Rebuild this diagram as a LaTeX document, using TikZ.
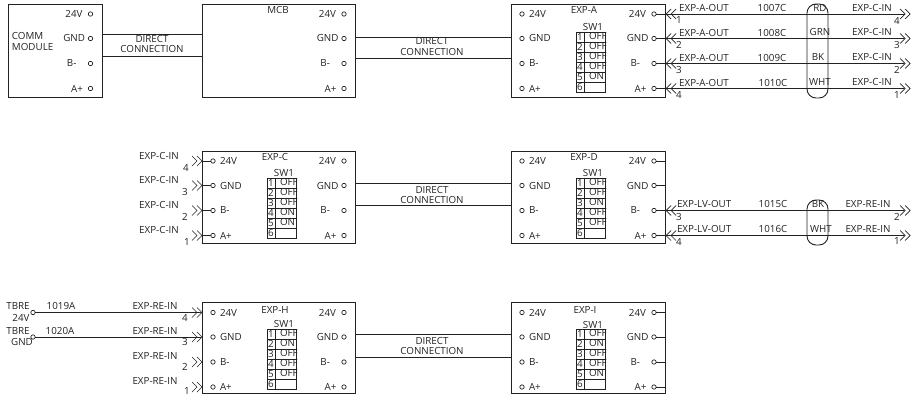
\documentclass[tikz,border=0pt]{standalone}
\usepackage{fontspec}
\setmainfont{Open Sans}
\definecolor{ink}{HTML}{222222}
\newcommand{\fs}{\fontsize{9.8}{9.8}\selectfont}
\tikzset{
  box/.style={draw=ink,line width=.9pt,anchor=north west,inner sep=0pt,outer sep=0pt},
  term/.style={circle,draw=ink,line width=.7pt,minimum size=4.4pt,inner sep=0pt,outer sep=0pt},
  txt/.style={text=ink,font=\fs,inner sep=0pt,outer sep=0pt},
  wire/.style={draw=ink,line width=.9pt},
  chev/.style={draw=ink,line width=.7pt},
  sw/.style={draw=ink,line width=.8pt},
  shield/.style={draw=ink,line width=.9pt,rounded corners=9pt,fill=none,anchor=north west,inner sep=0pt,outer sep=0pt}
}
\newcommand{\rowlabelsR}[3]{%
  \foreach \i/\t/\ox/\oy in {1/24V/-8/10,2/GND/-5.5/34.5,3/B-/-14/59.5,4/A+/-7.5/84.5}{
    \node[term] (#1-r\i) at (#2,#3+\oy) {};
    \node[txt,anchor=east] (#1-rt\i) at (#2+\ox,#3+\oy) {\t};
  }}
\newcommand{\rowlabelsL}[3]{%
  \foreach \i/\t/\oy in {1/24V/10,2/GND/34.5,3/B-/59.5,4/A+/84.5}{
    \node[term] (#1-l\i) at (#2,#3+\oy) {};
    \node[txt,anchor=west] (#1-lt\i) at (#2+7,#3+\oy) {\t};
  }}
\newcommand{\swtab}[3]{%
  \draw[sw] (#2,#3) rectangle (#2+29,#3+60);
  \draw[sw] (#2+8,#3) -- (#2+8,#3+60);
  \foreach \n/\v [evaluate=\n as \yy using {#3+10*(\n-1)}] in {#1}{
    \node[txt,anchor=center] (sn\n) at (#2+4,\yy+5) {\n};
    \node[txt,anchor=west] (sv\n) at (#2+13,\yy+4) {\v};
    \ifnum\n>1 \draw[sw] (#2,\yy) -- (#2+29,\yy);\fi
  }}
\newcommand{\chL}[2]{\draw[chev] (#1+5,#2-5) -- (#1,#2) -- (#1+5,#2+5) (#1+10,#2-5) -- (#1+5,#2) -- (#1+10,#2+5);}
\newcommand{\chR}[2]{\draw[chev] (#1-5,#2-5) -- (#1,#2) -- (#1-5,#2+5) (#1-10,#2-5) -- (#1-5,#2) -- (#1-10,#2+5);}
\newcommand{\dconn}[7]{%
  \coordinate (#1-a) at (#1.east |- 0,#3); \coordinate (#2-a) at (#2.west |- 0,#3);
  \coordinate (#1-b) at (#1.east |- 0,#4); \coordinate (#2-b) at (#2.west |- 0,#4);
  \draw[wire] (#1-a) -- (#2-a);
  \draw[wire] (#1-b) -- (#2-b);
  \node[txt] (#1-d1) at (#5,#6) {DIRECT};
  \node[txt] (#1-d2) at (#5,#7) {CONNECTION};
}
\begin{document}
\begin{tikzpicture}[x=1pt,y=-1pt]
\useasboundingbox (0,0) rectangle (911,396);
% ---------- top row
\node[box,minimum width=94pt,minimum height=93pt] (comm) at (8,4) {};
\node[txt,anchor=west] (commt1) at (12,36) {COMM};
\node[txt,anchor=west] (commt2) at (12,46.5) {MODULE};
\rowlabelsR{comm}{90.5}{4}
\node[box,minimum width=153pt,minimum height=93pt] (mcb) at (202,4) {};
\node[txt] (mcbt) at (278,10) {MCB};
\rowlabelsR{mcb}{344}{4}
\node[box,minimum width=154pt,minimum height=93pt] (A) at (511,4) {};
\node[txt] (At) at (584,10) {EXP-A};
\node[txt] (As) at (593,27) {SW1};
\swtab{1/OFF,2/OFF,3/OFF,4/OFF,5/ON,6/{}}{576}{32}
\rowlabelsL{A}{522}{4}
\rowlabelsR{A}{654}{4}
\dconn{comm}{mcb}{34}{56}{152}{39}{49}
\dconn{mcb}{A}{37}{58}{432}{41}{52}
\foreach \i/\y/\wa/\wb/\col/\colx/\num in {1/14/1007C/772/RD/820/4,2/38.5/1008C/772/GRN/820/3,3/63.5/1009C/772/BK/818/2,4/88.5/1010C/773/WHT/820/1}{
  \coordinate (Aw\i) at (904,\y);
  \draw[wire] (A-r\i) -- (Aw\i);
  \chL{666}{\y}\chR{910}{\y}
  \node[txt] (Ao\i) at (704,\y-6) {EXP-A-OUT};
  \node[txt] (Ac\i) at (\wb,\y-6) {\wa};
  \node[txt] (Ak\i) at (\colx,\y-6) {\col};
  \node[txt] (Ai\i) at (872,\y-6) {EXP-C-IN};
  \node[txt] (An\i) at (679,\y+6.5) {\i};
  \node[txt] (Am\i) at (897,\y+6.5) {\num};
}
\node[shield,minimum width=21pt,minimum height=94pt] (As1) at (807,4) {};
% ---------- middle row
\node[box,minimum width=153pt,minimum height=92pt] (C) at (202,151) {};
\node[txt] (Ct) at (275,157) {EXP-C};
\node[txt] (Cs) at (284,173) {SW1};
\swtab{1/OFF,2/OFF,3/OFF,4/ON,5/ON,6/{}}{267}{178}
\rowlabelsL{C}{213}{151}
\rowlabelsR{C}{344}{151}
\foreach \i/\y/\num/\nx in {1/161/4/186,2/185.5/3/185,3/210.5/2/185,4/235.5/1/187}{
  \coordinate (Cw\i) at (202,\y);
  \draw[wire] (Cw\i) -- (C-l\i);
  \chR{202}{\y}
  \node[txt] (Ci\i) at (159,\y-5.5) {EXP-C-IN};
  \node[txt] (Cn\i) at (\nx,\y+6.5) {\num};
}
\node[box,minimum width=154pt,minimum height=92pt] (D) at (511,151) {};
\node[txt] (Dt) at (584,157) {EXP-D};
\node[txt] (Ds) at (593,173) {SW1};
\swtab{1/OFF,2/OFF,3/ON,4/OFF,5/OFF,6/{}}{576}{178}
\rowlabelsL{D}{522}{151}
\rowlabelsR{D}{654}{151}
\dconn{C}{D}{183}{205}{432}{190}{199.5}
\foreach \i in {1,2}{\coordinate (Ds\i) at (D.east |- D-r\i); \draw[wire] (D-r\i) -- (Ds\i);}
\foreach \i/\y/\wa/\col/\colx/\num/\nn in {3/210.5/1015C/BK/818/3/2,4/235.5/1016C/WHT/821/4/1}{
  \coordinate (Dw\i) at (904,\y);
  \draw[wire] (D-r\i) -- (Dw\i);
  \chL{666}{\y}\chR{910}{\y}
  \node[txt,anchor=west] (Do\i) at (677,\y-6.5) {EXP-LV-OUT};
  \node[txt] (Dc\i) at (773,\y-6.5) {\wa};
  \node[txt] (Dk\i) at (\colx,\y-6.5) {\col};
  \node[txt] (Di\i) at (868,\y-6.5) {EXP-RE-IN};
  \node[txt] (Dn\i) at (679,\y+6) {\num};
  \node[txt] (Dm\i) at (897,\y+6) {\nn};
}
\node[shield,minimum width=21pt,minimum height=45pt] (Dsh) at (807,200) {};
% ---------- bottom row
\node[box,minimum width=153pt,minimum height=91pt] (H) at (202,302.5) {};
\node[txt] (Ht) at (275,310) {EXP-H};
\node[txt] (Hs) at (284,324) {SW1};
\swtab{1/OFF,2/ON,3/OFF,4/OFF,5/OFF,6/{}}{267}{329}
\rowlabelsL{H}{213}{302.5}
\rowlabelsR{H}{344}{302.5}
\foreach \i/\y/\num/\nx/\ny in {1/312.5/4/185/317.5,2/337/3/185/342,3/362/2/185/367,4/387/1/187/391}{
  \chR{202}{\y}
  \node[txt] (Hi\i) at (155,\y-6) {EXP-RE-IN};
  \node[txt] (Hn\i) at (\nx,\ny) {\num};
}
\node[term] (tb1) at (33,312.5) {};
\node[term] (tb2) at (33,337) {};
\coordinate (Hw1) at (201,312.5);
\coordinate (Hw2) at (201,337);
\draw[wire] (tb1) -- (Hw1);
\draw[wire] (tb2) -- (Hw2);
\node[txt] (tbt1) at (18,306) {TBRE};
\node[txt] (tbv1) at (21,318) {24V};
\node[txt] (tbt2) at (18,331) {TBRE};
\node[txt] (tbv2) at (22,342) {GND};
\node[txt] (w1019) at (61,306) {1019A};
\node[txt] (w1020) at (60,331) {1020A};
\node[box,minimum width=154pt,minimum height=91pt] (I) at (511,302.5) {};
\node[txt] (It) at (585,310) {EXP-I};
\node[txt] (Is) at (593,325) {SW1};
\swtab{1/OFF,2/ON,3/OFF,4/OFF,5/ON,6/{}}{576}{329}
\rowlabelsL{I}{522}{302.5}
\rowlabelsR{I}{654}{302.5}
\dconn{H}{I}{334}{357}{432}{341}{351}
\foreach \i in {1,2,3,4}{\coordinate (Is\i) at (I.east |- I-r\i); \draw[wire] (I-r\i) -- (Is\i);}
\end{tikzpicture}
\end{document}
